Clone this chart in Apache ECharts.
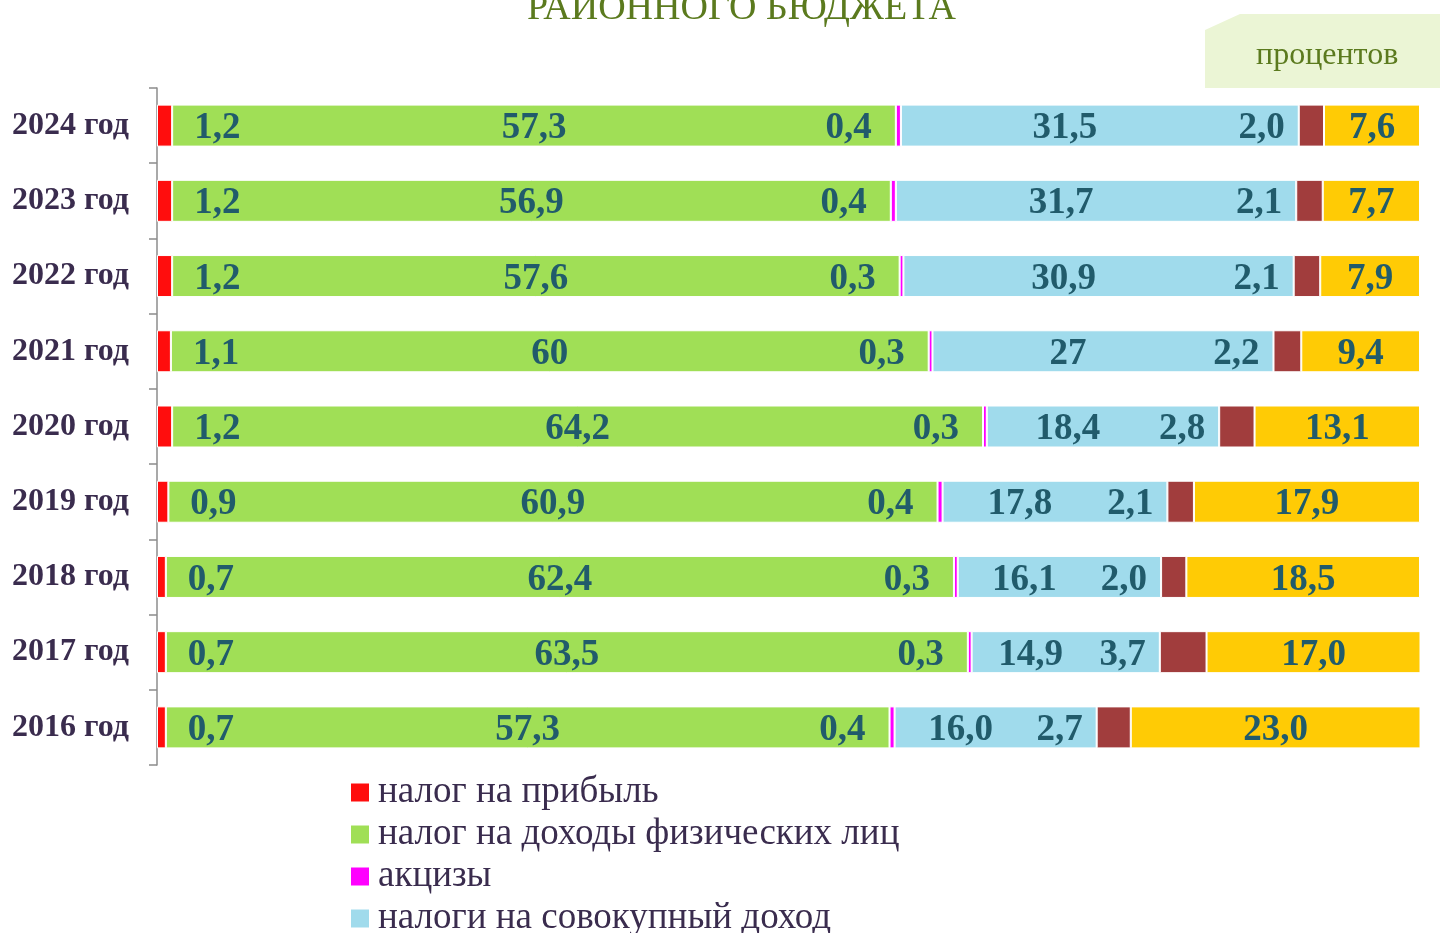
<!DOCTYPE html>
<html>
<head>
<meta charset="utf-8">
<script src="https://cdn.jsdelivr.net/npm/echarts@6/dist/echarts.min.js"></script>
<style>
html, body { margin: 0; padding: 0; background: #fff; }
#chart { width: 1440px; height: 933px; }
</style>
</head>
<body>
<div id="chart"></div>
<script>
/*** данные (2016 -> 2024, снизу вверх) ***/
var years = ['2016 год', '2017 год', '2018 год', '2019 год', '2020 год', '2021 год', '2022 год', '2023 год', '2024 год'];
var profitTax = ['0.7', '0.7', '0.7', '0.9', '1.2', '1.1', '1.2', '1.2', '1.2'];
var incomeTax = ['57.3', '63.5', '62.4', '60.9', '64.2', '60', '57.6', '56.9', '57.3'];
var excise = ['0.4', '0.3', '0.3', '0.4', '0.3', '0.3', '0.3', '0.4', '0.4'];
var totalIncomeTax = ['16.0', '14.9', '16.1', '17.8', '18.4', '27', '30.9', '31.7', '31.5'];
var stateDuty = ['2.7', '3.7', '2.0', '2.1', '2.8', '2.2', '2.1', '2.1', '2.0'];
var nonTax = ['23.0', '17.0', '18.5', '17.9', '13.1', '9.4', '7.9', '7.7', '7.6'];

var labelColor = '#215b6b';
var serif = '"Liberation Serif", "Times New Roman", serif';

// подпись берем из исходной строки, чтобы сохранить "2,0" и "60"
function makeLabel(arr, position, extra) {
	var lbl = {
		show: true,
		position: position,
		offset: [0, 3],
		color: labelColor,
		fontFamily: serif,
		fontWeight: 'bold',
		fontSize: 37,
		formatter: function(p) {
			return arr[p.dataIndex].replace('.', ',');
		}
	};
	return Object.assign(lbl, extra || {});
}

function barSeries(name, arr, color, label) {
	return {
		name: name,
		type: 'bar',
		stack: 'total',
		barWidth: 42,
		itemStyle: {
			color: color,
			borderColor: '#fff',
			borderWidth: 1
		},
		label: label,
		data: arr.map(Number)
	};
}

var chart = echarts.init(document.getElementById('chart'));
var option = {
	backgroundColor: '#fff',
	animation: false,
	title: {
		text: 'РАЙОННОГО БЮДЖЕТА',
		left: 527,
		top: -10,
		padding: 0,
		textStyle: {
			color: '#5b7a1e',
			fontFamily: serif,
			fontWeight: 'normal',
			fontSize: 38
		}
	},
	grid: {
		left: 157,
		right: 20,
		top: 88,
		bottom: 168
	},
	xAxis: {
		type: 'value',
		min: 0,
		max: 100,
		show: false
	},
	yAxis: {
		type: 'category',
		data: years,
		axisLine: { show: true, lineStyle: { color: '#8c8c8c', width: 1.5 } },
		axisTick: { show: true, length: 8, lineStyle: { color: '#8c8c8c', width: 1.5 } },
		axisLabel: {
			margin: 28,
			color: '#3a2c4e',
			fontFamily: serif,
			fontWeight: 'bold',
			fontSize: 32
		}
	},
	legend: {
		orient: 'vertical',
		left: 351,
		top: 774,
		padding: 0,
		height: 400,
		itemWidth: 18,
		itemHeight: 18,
		itemGap: 5,
		icon: 'rect',
		itemStyle: { borderWidth: 0 },
		textStyle: {
			color: '#3a2c4e',
			fontFamily: serif,
			fontSize: 37,
			padding: [0, 0, 0, 4]
		}
	},
	graphic: [{
		type: 'polygon',
		shape: {
			points: [[1205, 30], [1240, 14], [1440, 14], [1440, 88], [1205, 88]]
		},
		style: { fill: '#ebf5d5' },
		z: 0
	}, {
		type: 'text',
		left: 1256,
		top: 40,
		style: {
			text: 'процентов',
			fill: '#5b7a1e',
			font: '32px ' + serif
		}
	}],
	series: [
		barSeries('налог на прибыль', profitTax, '#ff0d0d', makeLabel(profitTax, 'right', { distance: 22 })),
		barSeries('налог на доходы физических лиц', incomeTax, '#a0df56', makeLabel(incomeTax, 'inside')),
		barSeries('акцизы', excise, '#ff00ff', makeLabel(excise, 'left', { distance: 24 })),
		barSeries('налоги на совокупный доход', totalIncomeTax, '#a0dbec', makeLabel(totalIncomeTax, 'inside', { offset: [-35, 3] })),
		barSeries('государственная пошлина', stateDuty, '#a13d3d', makeLabel(stateDuty, 'left', { distance: 14 })),
		barSeries('неналоговые доходы', nonTax, '#ffcb05', makeLabel(nonTax, 'inside'))
	]
};
chart.setOption(option);
</script>
</body>
</html>
